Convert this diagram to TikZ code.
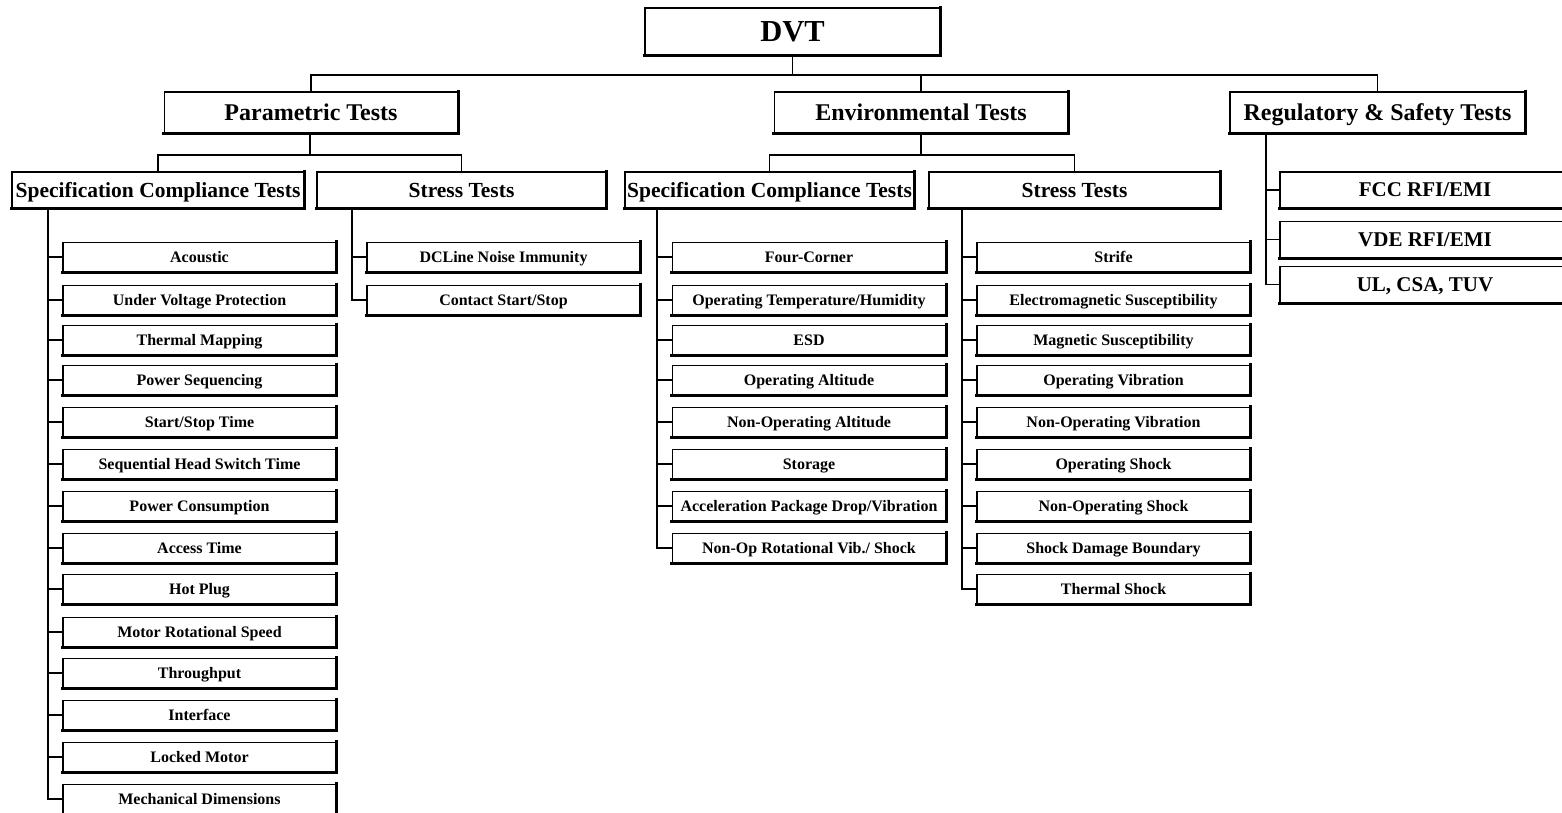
\documentclass[tikz,border=0pt]{standalone}
\usepackage{fontspec}
\setmainfont{Liberation Serif}
\begin{document}
\begin{tikzpicture}[x=1pt,y=-1pt,
  box/.style={draw, fill=white, line width=1.4pt, inner sep=0pt, align=center},
  topbox/.style={box, minimum width=295pt, minimum height=47pt, text height=23.2pt, text depth=3.05pt,
    font=\bfseries\fontsize{30.5}{30.5}\selectfont},
  grpbox/.style={box, minimum width=293pt, minimum height=41pt, text height=18.2pt, text depth=2.4pt,
    font=\bfseries\fontsize{24}{24}\selectfont},
  subbox/.style={box, minimum height=36pt, text height=16.3pt, text depth=2.15pt,
    font=\bfseries\fontsize{21.5}{21.5}\selectfont},
  leafbox/.style={box, minimum width=273pt, minimum height=29pt, text height=12.2pt, text depth=1.6pt,
    font=\bfseries\fontsize{16}{16}\selectfont},
  regbox/.style={box, minimum width=290pt, minimum height=36pt, text height=16pt, text depth=2.1pt,
    font=\bfseries\fontsize{21}{21}\selectfont},
  conn/.style={line width=1.9pt},
  rim/.style={line width=2.8pt, line cap=rect}]
\newcommand\rimof[1]{\draw[rim] (#1.north east) -- (#1.south east) -- (#1.south west);}
\useasboundingbox (0,0) rectangle (1562,813);
\clip (0,0) rectangle (1562,813);

% ---------- top levels ----------
\node[topbox] (dvt) at (792.5,31.5) {DVT};
\node[grpbox] (par) at (311,112.5) {Parametric Tests};
\node[grpbox] (env) at (921,112.5) {Environmental Tests};
\node[grpbox, minimum width=295pt] (reg) at (1377.5,112.5) {Regulatory \& Safety Tests};

\node[subbox, minimum width=292pt] (pspec) at (158,190) {Specification Compliance Tests};
\node[subbox, minimum width=289pt] (pstr) at (461.5,190) {Stress Tests};
\node[subbox, minimum width=289pt] (espec) at (769.5,190) {Specification Compliance Tests};
\node[subbox, minimum width=291pt] (estr) at (1074.5,190) {Stress Tests};

\coordinate (tbus) at (793,75);
\coordinate (pbus) at (310,155);
\coordinate (ebus) at (921,155);
\draw[conn] (dvt.south) -- (dvt.south |- tbus);
\draw[conn] (par.north) |- (tbus);
\draw[conn] (env.north) |- (tbus);
\draw[conn] (reg.north) |- (tbus);
\draw[conn] (par.south -| pbus) -- (pbus);
\draw[conn] (pspec.north) |- (pbus);
\draw[conn] (pstr.north) |- (pbus);
\draw[conn] (env.south) -- (ebus);
\draw[conn] (espec.north) |- (ebus);
\draw[conn] (estr.north) |- (ebus);

\foreach \n in {dvt,par,env,reg,pspec,pstr,espec,estr}{\rimof{\n}}

% ---------- trunks ----------
\coordinate (psT) at (48,208);
\coordinate (ptT) at (352,208);
\coordinate (esT) at (657,208);
\coordinate (etT) at (962,208);
\coordinate (rgT) at (1266,133);

% Parametric / specification compliance
\foreach \n/\y/\t in {1/257/{Acoustic}, 2/300/{Under Voltage Protection}, 3/340/{Thermal Mapping},
  4/380/{Power Sequencing}, 5/422/{Start/Stop Time}, 6/464/{Sequential Head Switch Time},
  7/506/{Power Consumption}, 8/548/{Access Time}, 9/589/{Hot Plug}, 10/632/{Motor Rotational Speed},
  11/673/{Throughput}, 12/715/{Interface}, 13/757/{Locked Motor}, 14/799/{Mechanical Dimensions}}{
  \node[leafbox] (ps\n) at (199.5,\y) {\t};
  \draw[conn] (ps\n.west) -- (ps\n.west -| psT);
  \rimof{ps\n}
}
\draw[conn] (psT) |- (ps14.west);

% Parametric / stress
\foreach \n/\y/\t in {1/257/{DCLine Noise Immunity}, 2/300/{Contact Start/Stop}}{
  \node[leafbox] (pt\n) at (503.5,\y) {\t};
  \draw[conn] (pt\n.west) -- (pt\n.west -| ptT);
  \rimof{pt\n}
}
\draw[conn] (ptT) |- (pt2.west);

% Environmental / specification compliance
\foreach \n/\y/\t in {1/257/{Four-Corner}, 2/300/{Operating Temperature/Humidity}, 3/340/{ESD},
  4/380/{Operating Altitude}, 5/422/{Non-Operating Altitude}, 6/464/{Storage},
  7/506/{Acceleration Package Drop/Vibration}, 8/548/{Non-Op Rotational Vib./ Shock}}{
  \node[leafbox] (es\n) at (809,\y) {\t};
  \draw[conn] (es\n.west) -- (es\n.west -| esT);
  \rimof{es\n}
}
\draw[conn] (esT) |- (es8.west);

% Environmental / stress
\foreach \n/\y/\t in {1/257/{Strife}, 2/300/{Electromagnetic Susceptibility}, 3/340/{Magnetic Susceptibility},
  4/380/{Operating Vibration}, 5/422/{Non-Operating Vibration}, 6/464/{Operating Shock},
  7/506/{Non-Operating Shock}, 8/548/{Shock Damage Boundary}, 9/589/{Thermal Shock}}{
  \node[leafbox] (et\n) at (1113.5,\y) {\t};
  \draw[conn] (et\n.west) -- (et\n.west -| etT);
  \rimof{et\n}
}
\draw[conn] (etT) |- (et9.west);

% Regulatory & safety
\foreach \n/\y/\t in {1/190/{FCC RFI/EMI}, 2/239.5/{VDE RFI/EMI}, 3/284.5/{UL, CSA, TUV}}{
  \node[regbox] (rg\n) at (1425,\y) {\t};
  \draw[conn] (rg\n.west) -- (rg\n.west -| rgT);
  \rimof{rg\n}
}
\draw[conn] (rgT) |- (rg3.west);
\end{tikzpicture}
\end{document}
